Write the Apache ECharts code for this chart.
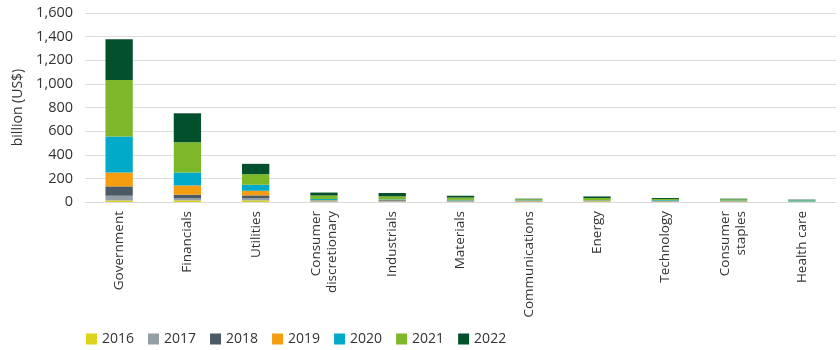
<!DOCTYPE html>
<html>
<head>
<meta charset="utf-8">
<script src="https://cdn.jsdelivr.net/npm/echarts@6/dist/echarts.min.js"></script>
<style>
    html, body { margin: 0; padding: 0; background: #fff; }
    #chart { width: 840px; height: 350px; }
</style>
</head>
<body>
<div id="chart"></div>
<script>
// categories
var sectors = ['Government', 'Financials', 'Utilities', 'Consumer\ndiscretionary', 'Industrials',
    'Materials', 'Communications', 'Energy', 'Technology', 'Consumer\nstaples', 'Health care'];
var years = ['2016', '2017', '2018', '2019', '2020', '2021', '2022'];

// values per year, billion US$
var y2016 = [13, 14, 14, 3, 3, 3, 2, 6, 2, 2, 1];
var y2017 = [40, 20, 20, 5, 7, 4, 2, 2, 3, 3, 1];
var y2018 = [79, 28, 22, 3, 6, 3, 2, 2, 2, 2, 1];
var y2019 = [118, 78, 39, 4, 3, 3, 6, 4, 3, 2, 2];
var y2020 = [304, 110, 51, 10, 4, 5, 4, 3, 6, 4, 8];
var y2021 = [478, 256, 90, 30, 25, 20, 8, 17, 10, 10, 3];
var y2022 = [346, 245, 87, 25, 28, 15, 4, 13, 8, 5, 4];

var colors = ['#ddd31c', '#939ea5', '#4b5a64', '#f49d10', '#00aac8', '#7cb82a', '#03512c'];

var dom = document.getElementById('chart');
var myChart = echarts.init(dom, null, { renderer: 'canvas' });

var yearData = [y2016, y2017, y2018, y2019, y2020, y2021, y2022];
var series = [];
for (var i = 0; i < years.length; i++) {
    series.push({
        name: years[i],
        type: 'bar',
        stack: 'total',
        barWidth: '40%',
        data: yearData[i],
        itemStyle: { color: colors[i] }
    });
}

var option = {
    animation: false,
    color: colors,
    textStyle: { fontFamily: 'Open Sans', color: '#333' },
    grid: { left: 85, right: 4, top: 13, bottom: 148 },
    legend: {
        data: years,
        left: 81,
        top: 327,
        icon: 'rect',
        itemWidth: 11,
        itemHeight: 11,
        itemGap: 14,
        textStyle: { fontSize: 14, color: '#333', fontFamily: 'Open Sans' }
    },
    xAxis: {
        type: 'category',
        data: sectors,
        axisLine: { show: true, lineStyle: { color: '#d9d9d9' } },
        axisTick: { show: false },
        axisLabel: {
            rotate: 90,
            interval: 0,
            fontSize: 13.5,
            color: '#333',
            margin: 9,
            lineHeight: 16
        }
    },
    yAxis: {
        type: 'value',
        min: 0,
        max: 1600,
        interval: 200,
        name: 'billion (US$)',
        nameLocation: 'middle',
        nameGap: 58,
        nameTextStyle: { fontSize: 14, color: '#333' },
        axisLine: { show: false },
        axisTick: { show: false },
        splitLine: { lineStyle: { color: '#dcdcdc' } },
        axisLabel: {
            fontSize: 14.5,
            color: '#333',
            margin: 12,
            formatter: function (v) { return v.toLocaleString('en-US'); }
        }
    },
    series: series
};

myChart.setOption(option);
window.addEventListener('resize', myChart.resize);
</script>
</body>
</html>
